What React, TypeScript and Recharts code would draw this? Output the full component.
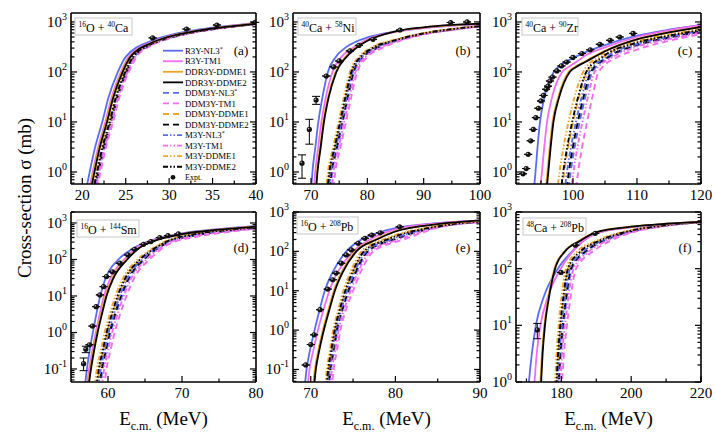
import React from 'react'
import { ComposedChart, Line, Scatter, XAxis, YAxis, ErrorBar } from 'recharts'

const FONT = '"Liberation Serif", "Times New Roman", serif'
const BLUE = '#5a6cf0'
const PINK = '#f26df2'
const ORANGE = '#eea52a'
const BLACK = '#000000'
const DASHED = '6 4'
const DASH_DOT = '5 2 1.5 2 1.5 2'

type Pt = [number, number]

const SERIES = [
  { name: 'R3Y-NL3', star: true, color: BLUE, dash: undefined },
  { name: 'R3Y-TM1', star: false, color: PINK, dash: undefined },
  { name: 'DDR3Y-DDME1', star: false, color: ORANGE, dash: undefined },
  { name: 'DDR3Y-DDME2', star: false, color: BLACK, dash: undefined },
  { name: 'DDM3Y-NL3', star: true, color: BLUE, dash: DASHED },
  { name: 'DDM3Y-TM1', star: false, color: PINK, dash: DASHED },
  { name: 'DDM3Y-DDME1', star: false, color: ORANGE, dash: DASHED },
  { name: 'DDM3Y-DDME2', star: false, color: BLACK, dash: DASHED },
  { name: 'M3Y-NL3', star: true, color: BLUE, dash: DASH_DOT },
  { name: 'M3Y-TM1', star: false, color: PINK, dash: DASH_DOT },
  { name: 'M3Y-DDME1', star: false, color: ORANGE, dash: DASH_DOT },
  { name: 'M3Y-DDME2', star: false, color: BLACK, dash: DASH_DOT },
]
// dashed families first, solid ones on top
const DRAW_ORDER = [4, 5, 6, 7, 8, 9, 10, 11, 0, 1, 2, 3]

// ---- (a) 16O + 40Ca ----
// energies (MeV) at which each curve reaches the cross-section levels, then tail points
const levelsA = [0.3, 1, 3, 10, 30, 100, 200]
const riseA = [
  [20.25, 20.85, 21.45, 22.3, 23.0, 24.1, 25.0],
  [20.6, 21.2, 21.8, 22.65, 23.35, 24.45, 25.35],
  [20.7, 21.3, 21.9, 22.75, 23.45, 24.55, 25.45],
  [20.8, 21.4, 22.0, 22.85, 23.55, 24.65, 25.55],
  [21.3, 21.9, 22.5, 23.35, 24.05, 25.15, 26.05],
  [21.5, 22.1, 22.7, 23.55, 24.25, 25.35, 26.25],
  [21.13, 21.73, 22.33, 23.18, 23.88, 24.98, 25.88],
  [21.25, 21.85, 22.45, 23.3, 24.0, 25.1, 26.0],
  [21.2, 21.8, 22.4, 23.25, 23.95, 25.05, 25.95],
  [21.37, 21.97, 22.57, 23.42, 24.12, 25.22, 26.12],
  [21.0, 21.6, 22.2, 23.05, 23.75, 24.85, 25.75],
  [21.1, 21.7, 22.3, 23.15, 23.85, 24.95, 25.85],
]
const tailA: Pt[][] = [
  [[28, 420], [30, 540], [33, 685], [36, 805], [40, 960]],
  [[28, 395], [30, 515], [33, 665], [36, 790], [40, 940]],
  [[28, 386], [30, 510], [33, 660], [36, 780], [40, 932]],
  [[28, 383], [30, 508], [33, 658], [36, 778], [40, 930]],
  [[28, 355], [30, 478], [33, 630], [36, 757], [40, 908]],
  [[28, 340], [30, 465], [33, 620], [36, 750], [40, 900]],
  [[28, 365], [30, 488], [33, 640], [36, 765], [40, 915]],
  [[28, 359], [30, 480], [33, 632], [36, 759], [40, 910]],
  [[28, 362], [30, 483], [33, 635], [36, 762], [40, 912]],
  [[28, 350], [30, 473], [33, 626], [36, 754], [40, 905]],
  [[28, 372], [30, 495], [33, 645], [36, 770], [40, 918]],
  [[28, 367], [30, 490], [33, 642], [36, 766], [40, 915]],
]
const exptA: number[][] = [[28.1, 480], [32.0, 720], [35.5, 870], [39.9, 980]]

// ---- (b) 40Ca + 58Ni ----
const levelsB = [0.3, 1, 3, 10, 30, 100, 200, 300]
const riseB = [
  [69.95, 70.25, 70.75, 71.3, 72.0, 73.0, 74.4, 76.0],
  [70.4, 70.75, 71.25, 71.85, 72.6, 73.8, 75.4, 77.4],
  [70.68, 71.03, 71.58, 72.18, 72.98, 74.35, 76.1, 77.8],
  [70.8, 71.15, 71.7, 72.3, 73.1, 74.5, 76.3, 78.0],
  [73.28, 73.78, 74.68, 75.68, 76.58, 77.68, 79.4, 81.76],
  [73.8, 74.3, 75.2, 76.2, 77.1, 78.2, 80.0, 82.6],
  [72.83, 73.33, 74.23, 75.23, 76.13, 77.23, 78.88, 81.03],
  [73.15, 73.65, 74.55, 75.55, 76.45, 77.55, 79.25, 81.55],
  [73.02, 73.52, 74.42, 75.42, 76.32, 77.42, 79.1, 81.34],
  [73.48, 73.98, 74.88, 75.88, 76.78, 77.88, 79.63, 82.08],
  [72.5, 73.0, 73.9, 74.9, 75.8, 76.9, 78.5, 80.5],
  [72.76, 73.26, 74.16, 75.16, 76.06, 77.16, 78.8, 80.92],
]
const tailB: Pt[][] = [
  [[78, 405], [80, 490], [85, 645], [90, 760], [95, 850], [100, 920]],
  [[80, 450], [85, 635], [90, 755], [95, 845], [100, 910]],
  [[80, 425], [85, 645], [90, 772], [95, 862], [100, 926]],
  [[80, 420], [85, 650], [90, 780], [95, 870], [100, 930]],
  [[85, 412], [90, 576], [95, 704], [100, 820]],
  [[85, 390], [90, 560], [95, 690], [100, 810]],
  [[85, 431], [90, 590], [95, 716], [100, 829]],
  [[85, 418], [90, 580], [95, 708], [100, 823]],
  [[85, 423], [90, 584], [95, 711], [100, 825]],
  [[85, 404], [90, 570], [95, 699], [100, 816]],
  [[85, 445], [90, 600], [95, 725], [100, 835]],
  [[85, 434], [90, 592], [95, 718], [100, 830]],
]
const exptB: number[][] = [
  [68.4, 1.5, 0.75, 0.7], [69.7, 7.1, 3.5, 4.2], [70.9, 27.5, 5, 5], [72.7, 83], [74.0, 126],
  [75.0, 166], [76.9, 263], [78.5, 340], [81.0, 450], [85.8, 690], [94.8, 975], [97.7, 1000],
]

// ---- (c) 40Ca + 90Zr ----
const levelsC = [0.3, 1, 3, 10, 30, 100, 200]
const riseC = [
  [93.75, 94.15, 94.45, 94.85, 95.5, 97.0],
  [94.75, 95.15, 95.5, 95.95, 96.7, 98.3],
  [95.6, 96.0, 96.35, 96.8, 97.65, 99.3],
  [95.75, 96.15, 96.5, 96.95, 97.8, 99.5],
  [99.14, 99.64, 100.24, 101.04, 101.88, 103.04, 105.8],
  [100.3, 100.8, 101.4, 102.2, 103.0, 104.0, 107.0],
  [98.13, 98.63, 99.23, 100.03, 100.9, 102.2, 104.75],
  [98.85, 99.35, 99.95, 100.75, 101.6, 102.8, 105.5],
  [98.56, 99.06, 99.66, 100.46, 101.32, 102.56, 105.2],
  [99.58, 100.08, 100.68, 101.48, 102.3, 103.4, 106.25],
  [97.4, 97.9, 98.5, 99.3, 100.2, 101.6, 104.0],
  [97.98, 98.48, 99.08, 99.88, 100.76, 102.08, 104.6],
]
const tailC: Pt[][] = [
  [[98, 135], [100, 190], [102, 250], [105, 345], [110, 530], [115, 700], [120, 870]],
  [[99.3, 125], [100.5, 158], [102, 215], [105, 310], [110, 500], [115, 680], [120, 860]],
  [[100.3, 126], [102, 166], [105, 266], [110, 455], [115, 624], [120, 792]],
  [[100.5, 126], [102, 160], [105, 260], [110, 450], [115, 620], [120, 790]],
  [[110, 338], [115, 476], [120, 630]],
  [[110, 280], [115, 420], [120, 570]],
  [[110, 380], [115, 525], [120, 682]],
  [[110, 350], [115, 490], [120, 645]],
  [[110, 362], [115, 504], [120, 660]],
  [[110, 320], [115, 455], [120, 608]],
  [[107, 300], [110, 410], [115, 560], [120, 720]],
  [[110, 386], [115, 532], [120, 690]],
]
const exptC: number[][] = [
  [92.2, 0.92], [92.7, 1.17], [93.0, 2.25], [93.4, 4.2], [93.8, 7.1], [94.2, 12.2], [94.6, 18.8],
  [95.0, 26.3], [95.4, 34], [95.8, 45], [96.1, 52], [96.4, 66], [96.8, 79], [97.5, 105],
  [98.2, 132], [99.0, 158], [100.0, 195], [101.4, 234], [102.7, 278], [104.2, 358],
  [105.8, 430], [107.3, 500], [109.4, 590],
]

// ---- (d) 16O + 144Sm ----
const levelsD = [0.03, 0.1, 0.3, 1, 3, 10, 30, 100, 200]
const riseD = [
  [56.85, 57.15, 57.5, 57.95, 58.4, 58.95, 59.65, 61.4],
  [57.1, 57.45, 57.85, 58.35, 58.85, 59.45, 60.3, 62.2],
  [57.23, 57.58, 57.98, 58.48, 59.03, 59.68, 60.56, 62.45],
  [57.35, 57.7, 58.1, 58.6, 59.15, 59.8, 60.7, 62.6],
  [58.93, 59.28, 59.78, 60.36, 61.04, 61.9, 62.9, 64.96, 66.78],
  [59.45, 59.8, 60.3, 60.9, 61.6, 62.5, 63.5, 65.6, 67.3],
  [58.48, 58.83, 59.33, 59.89, 60.55, 61.38, 62.38, 64.4, 66.33],
  [58.8, 59.15, 59.65, 60.23, 60.9, 61.75, 62.75, 64.8, 66.65],
  [58.67, 59.02, 59.52, 60.09, 60.76, 61.6, 62.6, 64.64, 66.52],
  [59.13, 59.48, 59.98, 60.56, 61.25, 62.13, 63.13, 65.2, 66.98],
  [58.15, 58.5, 59.0, 59.55, 60.2, 61.0, 62.0, 64.0, 66.0],
  [58.41, 58.76, 59.26, 59.82, 60.48, 61.3, 62.3, 64.32, 66.26],
]
const tailD: Pt[][] = [
  [[63, 180], [65, 290], [67, 390], [70, 520], [75, 680], [80, 820]],
  [[64, 220], [67, 375], [70, 505], [75, 665], [80, 805]],
  [[64, 196], [67, 365], [70, 498], [75, 658], [80, 802]],
  [[64, 190], [67, 360], [70, 495], [75, 655], [80, 800]],
  [[68, 282], [72, 464], [76, 600], [80, 732]],
  [[68, 250], [72, 420], [76, 560], [80, 700]],
  [[68, 310], [72, 502], [76, 635], [80, 760]],
  [[68, 290], [72, 475], [76, 610], [80, 740]],
  [[68, 298], [72, 486], [76, 620], [80, 748]],
  [[68, 270], [72, 447], [76, 585], [80, 720]],
  [[68, 330], [72, 530], [76, 660], [80, 780]],
  [[68, 314], [72, 508], [76, 640], [80, 764]],
]
const exptD: number[][] = [
  [56.7, 0.14, 0.05, 0.06], [57.0, 0.35, 0.07, 0.07], [57.5, 0.46], [57.9, 1.5], [58.4, 5.1],
  [58.9, 10.7], [59.4, 18], [59.8, 34], [60.6, 46], [61.6, 79], [62.7, 133], [63.6, 190],
  [64.8, 260], [65.8, 310], [67.0, 400], [68.1, 450], [69.5, 500],
]

// ---- (e) 16O + 208Pb ----
const levelsE = [0.03, 0.1, 0.3, 1, 3, 10, 30, 100, 200]
const riseE = [
  [69.25, 69.5, 69.9, 70.45, 71.0, 71.65, 72.6, 74.2, 76.0],
  [69.6, 69.85, 70.3, 70.85, 71.45, 72.2, 73.2, 75.0, 77.0],
  [70.23, 70.48, 70.88, 71.43, 72.03, 72.73, 73.66, 75.25, 77.6],
  [70.35, 70.6, 71.0, 71.55, 72.15, 72.85, 73.8, 75.4, 77.8],
  [72.13, 72.38, 72.76, 73.16, 73.74, 74.54, 75.42, 76.84, 80.0],
  [72.45, 72.7, 73.1, 73.5, 74.1, 75.0, 75.9, 77.4, 81.0],
  [71.85, 72.1, 72.46, 72.86, 73.43, 74.14, 75.0, 76.35, 79.13],
  [72.05, 72.3, 72.68, 73.08, 73.65, 74.43, 75.3, 76.7, 79.75],
  [71.97, 72.22, 72.59, 72.99, 73.56, 74.31, 75.18, 76.56, 79.5],
  [72.25, 72.5, 72.89, 73.29, 73.88, 74.71, 75.6, 77.05, 80.38],
  [71.65, 71.9, 72.25, 72.65, 73.2, 73.85, 74.7, 76.0, 78.5],
  [71.81, 72.06, 72.42, 72.82, 73.38, 74.08, 74.94, 76.28, 79.0],
]
const tailE: Pt[][] = [
  [[78, 300], [80, 390], [85, 520], [90, 600]],
  [[80, 360], [85, 515], [90, 600]],
  [[80, 325], [85, 492], [90, 607]],
  [[80, 320], [85, 490], [90, 610]],
  [[85, 416], [90, 566]],
  [[85, 400], [90, 550]],
  [[85, 430], [90, 580]],
  [[85, 420], [90, 570]],
  [[85, 424], [90, 574]],
  [[85, 410], [90, 560]],
  [[80, 260], [85, 440], [90, 590]],
  [[85, 432], [90, 582]],
]
const exptE: number[][] = [
  [69.4, 0.13], [70.0, 0.43], [70.4, 0.76], [71.1, 3.3], [72.0, 11], [72.6, 19], [73.0, 28],
  [73.6, 50], [74.2, 81], [74.8, 109], [75.6, 160], [76.4, 215], [77.2, 260], [78.2, 295], [80.5, 420],
]

// ---- (f) 48Ca + 208Pb ----
const levelsF = [0.5, 1, 3, 10, 30, 100, 200, 300]
const riseF = [
  [170.3, 170.7, 171.5, 172.7, 174.8, 179.0, 183.0],
  [171.9, 172.3, 172.9, 174.0, 176.0, 179.8, 183.2],
  [173.75, 174.0, 174.4, 175.1, 176.2, 178.0, 180.8, 184.7],
  [173.95, 174.2, 174.6, 175.3, 176.4, 178.2, 181.0, 185.0],
  [179.1, 179.4, 179.86, 180.64, 181.56, 183.04, 187.2, 191.9],
  [179.9, 180.2, 180.7, 181.6, 182.6, 184.2, 189.0, 193.5],
  [178.4, 178.7, 179.13, 179.8, 180.65, 182.03, 185.63, 190.5],
  [178.9, 179.2, 179.65, 180.4, 181.3, 182.75, 186.75, 191.5],
  [178.7, 179.0, 179.44, 180.16, 181.04, 182.46, 186.3, 191.1],
  [179.4, 179.7, 180.18, 181.0, 181.95, 183.48, 187.88, 192.5],
  [177.9, 178.2, 178.6, 179.2, 180.0, 181.3, 184.5, 189.5],
  [178.3, 178.6, 179.02, 179.68, 180.52, 181.88, 185.4, 190.3],
]
const tailF: Pt[][] = [
  [[190, 420], [200, 540], [210, 615], [220, 670]],
  [[190, 420], [200, 540], [210, 615], [220, 670]],
  [[190, 442], [200, 551], [210, 620], [220, 672]],
  [[190, 440], [200, 550], [210, 620], [220, 672]],
  [[200, 450], [210, 578], [220, 662]],
  [[200, 430], [210, 570], [220, 660]],
  [[200, 468], [210, 585], [220, 664]],
  [[200, 455], [210, 580], [220, 662]],
  [[200, 460], [210, 582], [220, 663]],
  [[200, 442], [210, 575], [220, 661]],
  [[200, 480], [210, 590], [220, 665]],
  [[200, 470], [210, 586], [220, 664]],
]
const exptF: number[][] = [[173.1, 8.3, 2.5, 2.5], [179.9, 86], [184, 260], [189.7, 420]]

const PANELS = [
  { key: 'a', left: 71, top: 13, w: 185, h: 171, xDom: [18.7, 40], yDom: [0.575, 1510], xMaj: [20, 25, 30, 35, 40], xMin: [22.5, 27.5, 32.5, 37.5], levels: levelsA, rise: riseA, tail: tailA, expt: exptA },
  { key: 'b', left: 293, top: 13, w: 187, h: 171, xDom: [66.8, 100], yDom: [0.575, 1510], xMaj: [70, 80, 90, 100], xMin: [75, 85, 95], levels: levelsB, rise: riseB, tail: tailB, expt: exptB },
  { key: 'c', left: 516, top: 13, w: 185, h: 171, xDom: [91.1, 120], yDom: [0.575, 1510], xMaj: [100, 110, 120], xMin: [95, 105, 115], levels: levelsC, rise: riseC, tail: tailC, expt: exptC },
  { key: 'd', left: 71, top: 212, w: 185, h: 170, xDom: [55, 80], yDom: [0.044, 2000], xMaj: [60, 70, 80], xMin: [65, 75], levels: levelsD, rise: riseD, tail: tailD, expt: exptD },
  { key: 'e', left: 293, top: 212, w: 187, h: 170, xDom: [67.9, 90], yDom: [0.048, 1000], xMaj: [70, 80, 90], xMin: [75, 85], levels: levelsE, rise: riseE, tail: tailE, expt: exptE },
  { key: 'f', left: 516, top: 212, w: 185, h: 170, xDom: [167, 220], yDom: [1, 1000], xMaj: [180, 200, 220], xMin: [170, 190, 210], levels: levelsF, rise: riseF, tail: tailF, expt: exptF },
]

const REACTIONS = [
  { box: [75, 18, 57], parts: ['16', 'O + ', '40', 'Ca'] },
  { box: [298, 18, 58], parts: ['40', 'Ca + ', '58', 'Ni'] },
  { box: [522, 18, 56], parts: ['40', 'Ca + ', '90', 'Zr'] },
  { box: [77, 220, 62], parts: ['16', 'O + ', '144', 'Sm'] },
  { box: [297, 217, 61], parts: ['16', 'O + ', '208', 'Pb'] },
  { box: [523, 218, 63], parts: ['48', 'Ca + ', '208', 'Pb'] },
]

function logTicks(lo: number, hi: number) {
  const out: number[] = []
  for (let d = -2; d <= 3; d++) {
    for (let k = 1; k <= 9; k++) {
      const v = Number((k * Math.pow(10, d)).toPrecision(3))
      if (v >= lo && v <= hi) out.push(v)
    }
  }
  return out
}

const isDecade = (v: number) => Math.abs(Math.log10(v) - Math.round(Math.log10(v))) < 1e-6

function xTick(side: 'bottom' | 'top', majors: number[]) {
  return (t: any) => {
    const v = t.payload.value
    const major = majors.includes(v)
    const len = major ? 6 : 3.5
    const dir = side === 'bottom' ? -1 : 1
    return (
      <g>
        <line x1={t.x} x2={t.x} y1={t.y} y2={t.y + dir * len} stroke="#000" strokeWidth={1.2} />
        {side === 'bottom' && major && (
          <text x={t.x} y={t.y + 16} textAnchor="middle" fontSize={15} fontFamily={FONT} fill="#000">
            {v}
          </text>
        )}
      </g>
    )
  }
}

function yTick(side: 'left' | 'right') {
  return (t: any) => {
    const v = t.payload.value
    const major = isDecade(v)
    const len = major ? 6 : 3.5
    const dir = side === 'left' ? 1 : -1
    return (
      <g>
        <line x1={t.x} x2={t.x + dir * len} y1={t.y} y2={t.y} stroke="#000" strokeWidth={1.2} />
        {side === 'left' && major && (
          <text x={t.x - 4} y={t.y + 5} textAnchor="end" fontSize={15} fontFamily={FONT} fill="#000">
            10<tspan dy={-7} fontSize={10}>{String(Math.round(Math.log10(v)))}</tspan>
          </text>
        )}
      </g>
    )
  }
}

const exptDot = (p: any) => (
  <g>
    <circle cx={p.cx} cy={p.cy} r={2.6} fill="#111" />
    <circle cx={p.cx - 0.8} cy={p.cy - 0.8} r={0.8} fill="#bbb" />
  </g>
)

// space around each plot; the axes themselves are 1px thick boxes so they render
const ML = 60
const MT = 12
const MR = 12
const MB = 30
const AX = 1
const FRAME = { stroke: '#000', strokeWidth: 1.6 }

function Panel({ p }: { p: (typeof PANELS)[number] }) {
  const curves = SERIES.map((_, i) => [
    ...p.rise[i].map((x, k) => ({ x, y: p.levels[k] })),
    ...p.tail[i].map(([x, y]) => ({ x, y })),
  ])
  const expt = p.expt.map(([x, y, lo = 0, hi = 0]) => ({ x, y, err: [lo, hi] }))
  const xTicks = [...p.xMaj, ...p.xMin].sort((a, b) => a - b)
  const yTicks = logTicks(p.yDom[0], p.yDom[1])
  return (
    <div style={{ position: 'absolute', left: p.left - ML, top: p.top - MT }}>
      <ComposedChart width={p.w + ML + MR} height={p.h + MT + MB}
        margin={{ top: MT - AX, right: MR - AX, bottom: MB - AX, left: ML - AX }}>
        <XAxis type="number" dataKey="x" domain={p.xDom} allowDataOverflow ticks={xTicks} interval={0}
          height={AX} tickSize={0} tickMargin={0} tickLine={false} axisLine={FRAME} tick={xTick('bottom', p.xMaj)} />
        <XAxis xAxisId="top" orientation="top" type="number" domain={p.xDom} allowDataOverflow ticks={xTicks} interval={0}
          height={AX} tickSize={0} tickMargin={0} tickLine={false} axisLine={FRAME} tick={xTick('top', p.xMaj)} />
        <YAxis type="number" scale="log" domain={p.yDom} allowDataOverflow ticks={yTicks} interval={0}
          width={AX} tickSize={0} tickMargin={0} tickLine={false} axisLine={FRAME} tick={yTick('left')} />
        <YAxis yAxisId="right" orientation="right" type="number" scale="log" domain={p.yDom} allowDataOverflow ticks={yTicks} interval={0}
          width={AX} tickSize={0} tickMargin={0} tickLine={false} axisLine={FRAME} tick={yTick('right')} />
        {DRAW_ORDER.map((i) => (
          <Line key={SERIES[i].name} data={curves[i]} dataKey="y" type="monotone" dot={false} activeDot={false}
            stroke={SERIES[i].color} strokeWidth={SERIES[i].dash ? 1.9 : 1.8} strokeDasharray={SERIES[i].dash}
            isAnimationActive={false} />
        ))}
        <Scatter data={expt} dataKey="y" shape={exptDot} isAnimationActive={false}>
          <ErrorBar dataKey="err" direction="y" width={4} stroke="#000" strokeWidth={1} />
        </Scatter>
      </ComposedChart>
    </div>
  )
}

function Overlay() {
  const legX = 163
  const legY = 50.7
  const legDy = 10.55
  const letters = [[241, 55], [463, 55], [685, 55], [241, 252], [463, 252], [685, 252]]
  return (
    <svg width={715} height={434} style={{ position: 'absolute', left: 0, top: 0, pointerEvents: 'none' }} fontFamily={FONT}>
      <text transform="translate(31,198) rotate(-90)" textAnchor="middle" fontSize={19} fill="#000">
        Cross-section σ (mb)
      </text>
      {[163.5, 386.5, 608.5].map((cx) => (
        <text key={cx} x={cx} y={425} textAnchor="middle" fontSize={19} fill="#000">
          E<tspan fontSize={12} dy={5}>c.m.</tspan><tspan dy={-5}> (MeV)</tspan>
        </text>
      ))}
      {PANELS.map((p, i) => (
        <text key={p.key} x={letters[i][0]} y={letters[i][1]} textAnchor="middle" fontSize={13} fill="#000">
          ({p.key})
        </text>
      ))}
      {REACTIONS.map((r, i) => (
        <g key={i}>
          <rect x={r.box[0]} y={r.box[1]} width={r.box[2]} height={17} fill="#fff" stroke="#c8c8c8" strokeWidth={1} />
          <text x={r.box[0] + 3.5} y={r.box[1] + 13.5} fontSize={12} fill="#000">
            <tspan fontSize={7.5} dy={-5}>{r.parts[0]}</tspan>
            <tspan dy={5}>{r.parts[1]}</tspan>
            <tspan fontSize={7.5} dy={-5}>{r.parts[2]}</tspan>
            <tspan dy={5}>{r.parts[3]}</tspan>
          </text>
        </g>
      ))}
      {SERIES.map((s, i) => {
        const y = legY + i * legDy
        return (
          <g key={s.name}>
            <line x1={legX} x2={legX + 20} y1={y} y2={y} stroke={s.color} strokeWidth={1.8} strokeDasharray={s.dash} />
            <text x={legX + 22} y={y + 3.2} fontSize={8.8} fill="#000">
              {s.name}
              {s.star && <tspan dy={-3} fontSize={6}>*</tspan>}
            </text>
          </g>
        )
      })}
      <circle cx={legX + 10} cy={legY + 12 * legDy} r={2.4} fill="#111" />
      <text x={legX + 22} y={legY + 12 * legDy + 3} fontSize={8} fill="#000">Expt.</text>
    </svg>
  )
}

export default function App() {
  return (
    <div style={{ position: 'absolute', left: 0, top: 0, width: 715, height: 434, background: '#fff', fontFamily: FONT }}>
      {PANELS.map((p) => (
        <Panel key={p.key} p={p} />
      ))}
      <Overlay />
    </div>
  )
}
